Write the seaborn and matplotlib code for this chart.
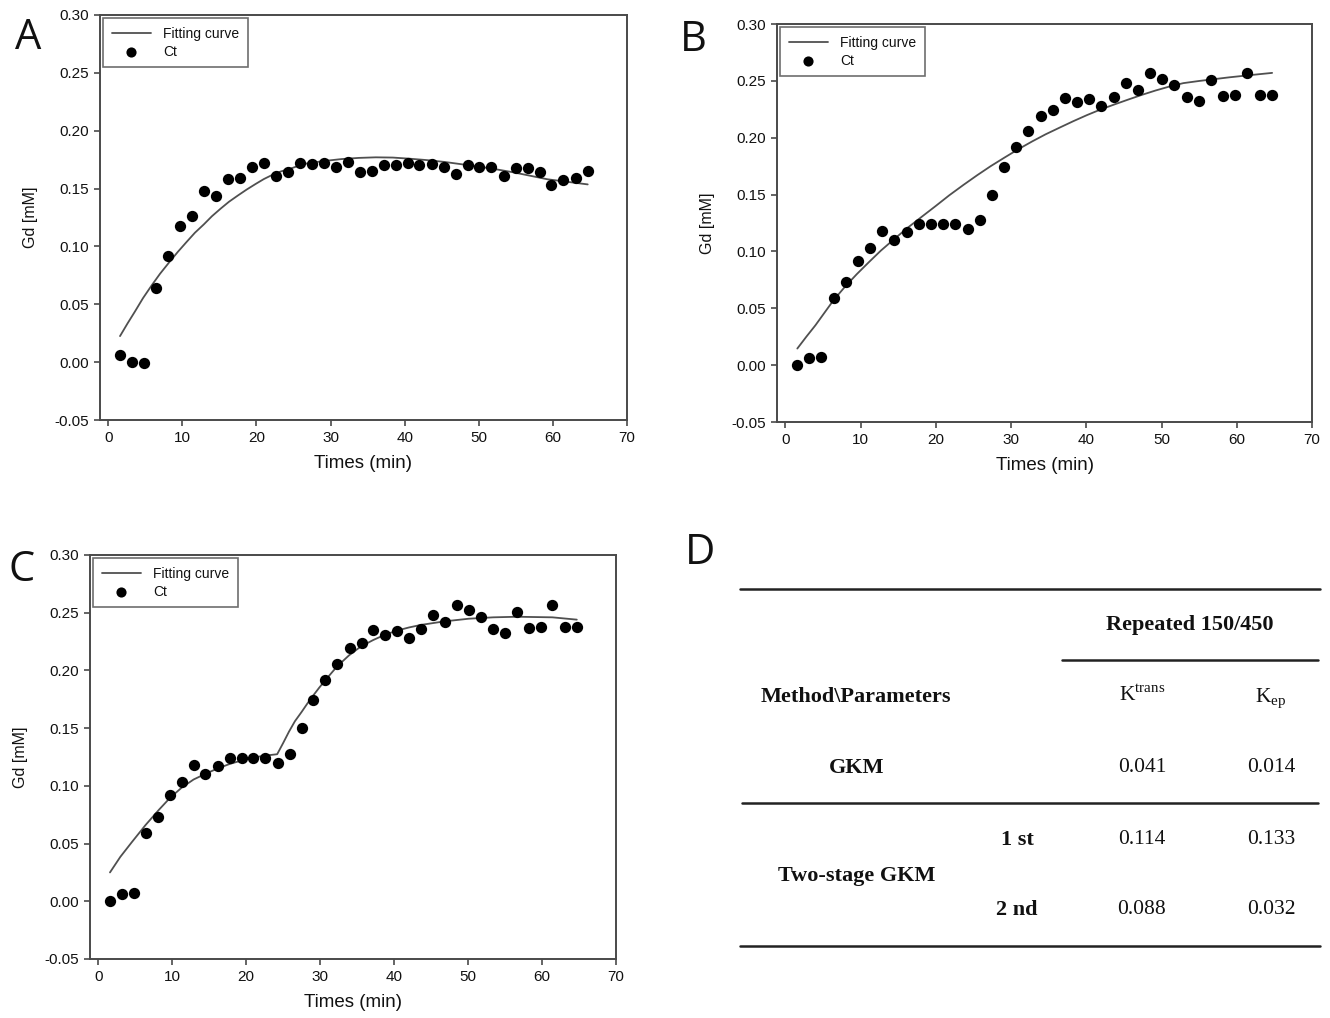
# recreate GKM fitting figure (panels A-C curves, D table)

import matplotlib
matplotlib.use("Agg")
import matplotlib.pyplot as plt
from matplotlib.lines import Line2D
from matplotlib.ticker import FormatStrFormatter, MultipleLocator
import seaborn as sns
import numpy as np
import pandas as pd

sns.set_theme(style="white")
plt.rcParams['font.family'] = ['Liberation Sans', 'DejaVu Sans']
plt.rcParams['axes.unicode_minus'] = False

# sampling times (min)
times = [1.6, 3.2, 4.8, 6.5, 8.1, 9.7, 11.3, 12.9, 14.5, 16.2,
         17.8, 19.4, 21.0, 22.6, 24.3, 25.9, 27.5, 29.1, 30.7, 32.3,
         34.0, 35.6, 37.2, 38.8, 40.4, 42.0, 43.7, 45.3, 46.9, 48.5,
         50.1, 51.7, 53.4, 55.0, 56.6, 58.2, 59.8, 61.4, 63.1, 64.7]

# Ct for panel A
ct_a = [0.006, 0.000, -0.001, 0.064, 0.092, 0.118, 0.126, 0.148, 0.144, 0.158,
        0.159, 0.169, 0.172, 0.161, 0.164, 0.172, 0.171, 0.172, 0.169, 0.173,
        0.164, 0.165, 0.170, 0.170, 0.172, 0.170, 0.171, 0.169, 0.163, 0.170,
        0.169, 0.169, 0.161, 0.168, 0.168, 0.164, 0.153, 0.157, 0.159, 0.165]

# Ct for panels B and C (same acquisition)
ct_bc = [0.000, 0.006, 0.007, 0.059, 0.073, 0.092, 0.103, 0.118, 0.110, 0.117,
         0.124, 0.124, 0.124, 0.124, 0.120, 0.128, 0.150, 0.174, 0.192, 0.206,
         0.219, 0.224, 0.235, 0.231, 0.234, 0.228, 0.236, 0.248, 0.242, 0.257,
         0.252, 0.246, 0.236, 0.232, 0.251, 0.237, 0.238, 0.257, 0.238, 0.238]

# fitting curves
fit_a_t = [1.6, 2.6, 3.6, 4.7, 5.9, 7.0, 8.2, 9.4, 10.6, 11.7, 12.9, 14.0, 15.2,
           16.3, 17.5, 18.7, 19.9, 21.0, 22.2, 23.3, 24.5, 25.6, 26.8, 29.1,
           31.5, 33.8, 36.1, 38.4, 40.7, 43.0, 45.4, 47.7, 50.0, 52.3, 54.7,
           57.0, 59.3, 62.0, 64.7]
fit_a = [0.0225, 0.0333, 0.0436, 0.0553, 0.0666, 0.0764, 0.086, 0.0953, 0.104,
         0.1118, 0.119, 0.1261, 0.1328, 0.1386, 0.144, 0.1492, 0.154, 0.1582,
         0.162, 0.1648, 0.167, 0.1695, 0.1717, 0.1738, 0.1755, 0.1765, 0.177,
         0.1768, 0.1758, 0.1746, 0.173, 0.171, 0.169, 0.1667, 0.164, 0.161,
         0.158, 0.1558, 0.1536]

fit_b_t = [1.6, 2.8, 4.0, 5.2, 6.4, 7.9, 9.5, 11.1, 12.7, 14.5, 16.3, 18.2,
           20.0, 21.8, 23.7, 25.5, 27.3, 29.2, 31.0, 32.8, 34.6, 36.5, 38.3,
           40.1, 41.9, 43.8, 45.6, 47.4, 49.2, 51.0, 52.9, 55.0, 57.0, 59.0,
           61.0, 62.9, 64.7]
fit_b = [0.0146, 0.025, 0.035, 0.046, 0.057, 0.0687, 0.080, 0.0905, 0.1007,
         0.111, 0.121, 0.1308, 0.140, 0.1494, 0.1586, 0.167, 0.175, 0.1828,
         0.190, 0.1967, 0.203, 0.209, 0.2146, 0.2199, 0.2248, 0.2294, 0.2336,
         0.2377, 0.2415, 0.2449, 0.248, 0.2499, 0.2515, 0.2531, 0.2545, 0.2558,
         0.257]

fit_c_t = [1.6, 3.0, 4.5, 6.4, 8.25, 9.7, 11.3, 12.9, 14.6, 16.2, 17.8,
           19.4, 21.0, 22.7, 24.2, 25.0, 25.8, 26.6, 27.5, 28.3, 29.1, 29.9,
           30.7, 31.5, 32.3, 33.9, 35.5, 37.2, 38.8, 40.4, 42.0, 43.6, 46.8,
           50.1, 53.4, 56.6, 61.4, 64.7]
fit_c = [0.025, 0.0385, 0.0508, 0.066, 0.0795, 0.0895, 0.0985, 0.1055, 0.1107,
         0.1152, 0.119, 0.122, 0.1246, 0.1263, 0.1274, 0.137, 0.147, 0.156,
         0.164, 0.1715, 0.1785, 0.1852, 0.1914, 0.1975, 0.2035, 0.213, 0.2207,
         0.2264, 0.231, 0.2345, 0.2372, 0.2394, 0.2425, 0.2448, 0.246, 0.2465,
         0.246, 0.244]

# table D
tbl_header = "Repeated 150/450"
tbl_params = ["K$^{\\mathregular{trans}}$", "K$_{\\mathregular{ep}}$"]
tbl_methods = ["GKM", "Two-stage GKM"]
tbl_stages = ["1 st", "2 nd"]
gkm_vals = ["0.041", "0.014"]
two_stage_vals = [["0.114", "0.133"], ["0.088", "0.032"]]

W, H = 1330, 1018
fig = plt.figure(figsize=(W / 100, H / 100), dpi=100)
fig.patch.set_facecolor("white")


def px_axes(left, right, top, bottom):
    return fig.add_axes([left / W, 1 - bottom / H, (right - left) / W, (bottom - top) / H])


def draw_panel(ax, t, ct, ft, fy):
    sns.lineplot(x=ft, y=fy, ax=ax, color="#505050", lw=1.3, estimator=None,
                 sort=False, label="Fitting curve")
    sns.scatterplot(x=t, y=ct, ax=ax, color="black", s=66, edgecolor="black",
                    linewidth=0, label="Ct", zorder=3)
    ax.set_xlim(-1.1, 70)
    ax.set_ylim(-0.05, 0.30)
    ax.xaxis.set_major_locator(MultipleLocator(10))
    ax.yaxis.set_major_locator(MultipleLocator(0.05))
    ax.yaxis.set_major_formatter(FormatStrFormatter('%.2f'))
    for sp in ax.spines.values():
        sp.set_visible(True)
        sp.set_color("#4a4a4a")
        sp.set_linewidth(1.4)
    ax.tick_params(axis="both", which="major", direction="out", length=4, width=1.2,
                   color="#4a4a4a", labelsize=11, pad=4, bottom=True, left=True,
                   top=False, right=False, labelcolor="#111111")
    ax.set_xlabel("Times (min)", fontsize=13.5, labelpad=7, color="#111111")
    ax.set_ylabel("Gd [mM]", fontsize=11.5, labelpad=12, color="#111111")
    leg = ax.legend(loc="upper left", fontsize=10, frameon=True, fancybox=False,
                    edgecolor="#4a4a4a", handlelength=2.8, handletextpad=0.9,
                    labelspacing=0.3, borderpad=0.6, borderaxespad=0.25,
                    markerscale=0.9)
    leg.get_frame().set_linewidth(1.2)
    for txt in leg.get_texts():
        txt.set_color("#111111")


ax_a = px_axes(100, 627, 15, 420)
draw_panel(ax_a, times, ct_a, fit_a_t, fit_a)
ax_b = px_axes(777, 1312, 24, 422)
draw_panel(ax_b, times, ct_bc, fit_b_t, fit_b)
ax_c = px_axes(90, 616, 555, 959)
draw_panel(ax_c, times, ct_bc, fit_c_t, fit_c)

letter_font = dict(fontsize=30, family=["Open Sans", "DejaVu Sans"], color="#111111",
                   ha="center", va="center", fontweight="normal")
fig.text(28 / W, 1 - 38 / H, "A", **letter_font)
fig.text(693 / W, 1 - 40 / H, "B", **letter_font)
fig.text(22 / W, 1 - 570 / H, "C", **letter_font)
fig.text(700 / W, 1 - 553 / H, "D", **letter_font)

# table D
serif = ["Liberation Serif", "DejaVu Serif"]


def ftxt(x, y, s, bold=False, size=15.5):
    fig.text(x / W, 1 - y / H, s, ha="center", va="center", family=serif,
             fontsize=size, fontweight="bold" if bold else "normal", color="#111111")


def rule(x0, x1, y, lw=1.8):
    fig.add_artist(Line2D([x0 / W, x1 / W], [1 - y / H, 1 - y / H], color="#222222",
                          lw=lw, transform=fig.transFigure))


rule(740, 1320, 589)
rule(1062, 1318, 660)
rule(742, 1318, 803)
rule(740, 1320, 946)

ftxt(1190, 625, tbl_header, bold=True, size=16)
ftxt(856, 697, "Method\\Parameters", bold=True, size=16)
ftxt(1142, 695, tbl_params[0])
ftxt(1271, 699, tbl_params[1])
ftxt(857, 768, tbl_methods[0], bold=True, size=16)
ftxt(1142, 768, gkm_vals[0])
ftxt(1271, 768, gkm_vals[1])
ftxt(857, 876, tbl_methods[1], bold=True, size=16)
ftxt(1017, 840, tbl_stages[0], bold=True, size=16)
ftxt(1017, 910, tbl_stages[1], bold=True, size=16)
ftxt(1142, 840, two_stage_vals[0][0])
ftxt(1271, 840, two_stage_vals[0][1])
ftxt(1142, 910, two_stage_vals[1][0])
ftxt(1271, 910, two_stage_vals[1][1])

fig.savefig("out.png", dpi=100, facecolor="white")
